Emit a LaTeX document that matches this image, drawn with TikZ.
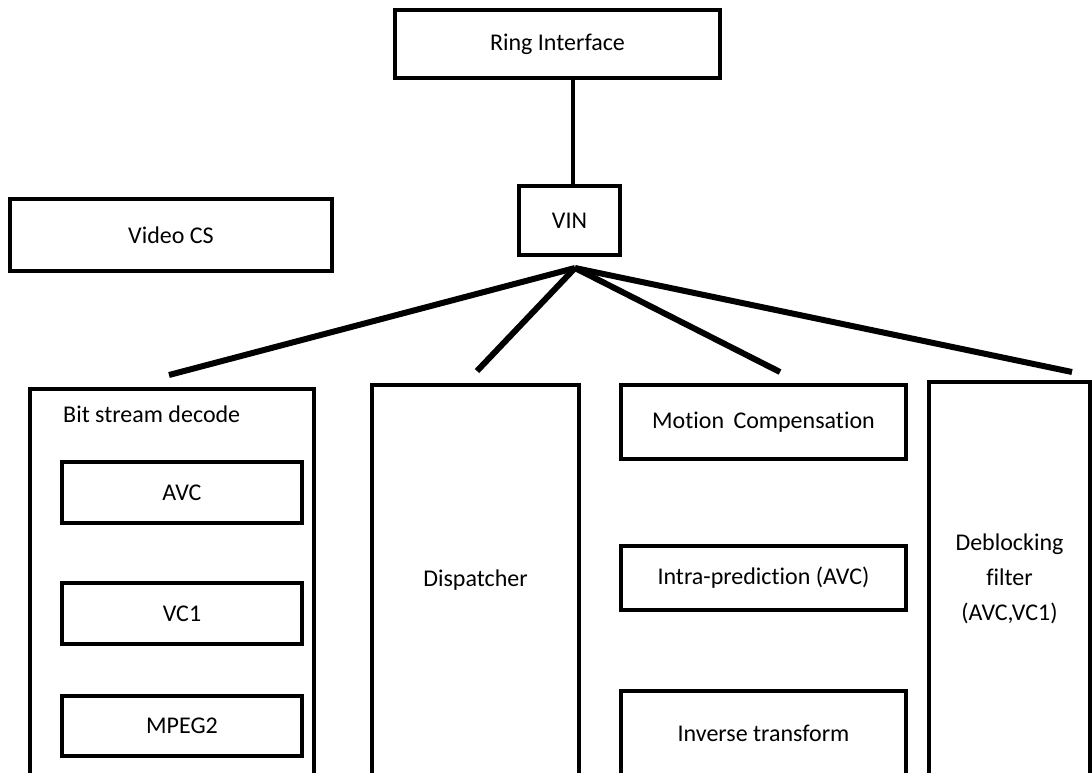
\documentclass[tikz,border=0pt]{standalone}
\usepackage{fontspec}
\setmainfont{Carlito}[Ligatures={NoCommon}]
\begin{document}
\begin{tikzpicture}[x=1pt,y=-1pt,
  box/.style={draw=black, line width=4pt, rectangle, inner sep=0pt,
    font=\fontsize{24}{35}\selectfont, align=center, text=black},
  lbl/.style={inner sep=0pt, font=\fontsize{24}{35}\selectfont, text=black},
  link/.style={line width=6pt, line cap=butt}]
\useasboundingbox (0,0) rectangle (1092,772);
\clip (0,0) rectangle (1092,772);

% top of the hierarchy
\node[box, minimum width=325pt, minimum height=68pt] (ring) at (557.5,44) {Ring Interface};
\node[box, minimum width=101pt, minimum height=69pt] (vin) at (569.5,220.5) {VIN};
\node[box, minimum width=322pt, minimum height=72pt] (vcs) at (171,235) {Video CS};

% bit stream decode group
\node[box, line width=3.5pt, minimum width=284pt, minimum height=387pt] (bsd) at (172,582.5) {};
\node[lbl, anchor=west] (bsdt) at (63,414) {Bit stream decode};
\node[box, minimum width=240pt, minimum height=61pt] (avc) at (182,492.5) {AVC};
\node[box, minimum width=240pt, minimum height=61pt] (vc1) at (182,613.5) {VC1};
\node[box, minimum width=240pt, minimum height=60pt] (mpeg) at (182,726) {MPEG2};

% dispatcher
\node[box, line width=3.5pt, minimum width=207pt, minimum height=391pt] (disp) at (475.5,580.5) {Dispatcher};

% reconstruction stages
\node[box, minimum width=285pt, minimum height=74pt] (mc) at (763.5,422) {Motion\, Compensation};
\node[box, minimum width=285pt, minimum height=64pt] (intra) at (763.5,578) {Intra-prediction (AVC)};
\node[box, minimum width=285pt, minimum height=85pt] (inv) at (763.5,733.5) {Inverse transform};

% deblocking filter
\node[box, line width=3.5pt, minimum width=161pt, minimum height=394pt] (dbf) at (1009.5,579) {Deblocking\\filter\\(AVC,VC1)};

% connectors
\draw[line width=4pt] ([xshift=3.5pt]vin.north) -- ([xshift=3.5pt]vin.north |- ring.south);
\coordinate (hub) at (575,268);
\coordinate (eb) at (169,375);
\coordinate (ed) at (477,371);
\coordinate (em) at (780,372);
\coordinate (ef) at (1072,372);
\draw[link] (hub) -- (eb);
\draw[link] (hub) -- (ed);
\draw[link] (hub) -- (em);
\draw[link] (hub) -- (ef);
\end{tikzpicture}
\end{document}
